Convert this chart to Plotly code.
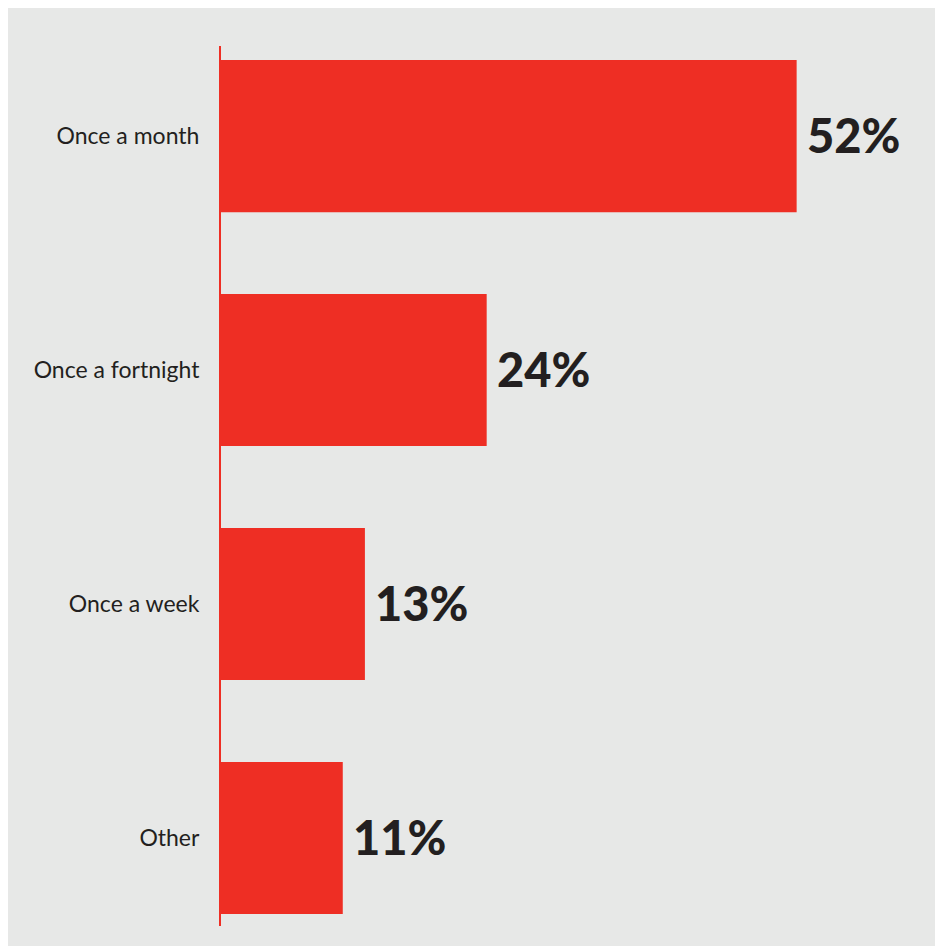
import plotly.graph_objects as go

# Survey answers and their shares (%)
categories = ["Once a month", "Once a fortnight", "Once a week", "Other"]
shares = [52, 24, 13, 11]
value_labels = ["52%", "24%", "13%", "11%"]

RED = "#EE2E24"
GREY = "#E7E8E7"
INK = "#231F20"

W, H = 935, 946
LEFT, RIGHT, TOP, BOTTOM = 221, 0, 46, 20

fig = go.Figure(
    go.Bar(
        x=shares,
        y=categories,
        orientation="h",
        marker=dict(color=RED, line=dict(width=0)),
        hoverinfo="skip",
    )
)

# Percentage labels just past the end of each bar
for cat, val, lab in zip(categories, shares, value_labels):
    fig.add_annotation(
        x=val, y=cat, xref="x", yref="y",
        text=lab,
        showarrow=False, xanchor="left", yanchor="middle",
        xshift=8, yshift=1,
        font=dict(family="Lato", size=47, color=INK, weight=900),
    )

plot_w = W - LEFT - RIGHT
plot_h = H - TOP - BOTTOM

# Grey panel behind everything, leaving a thin white edge top and left
fig.add_shape(
    type="rect", xref="paper", yref="paper", layer="below",
    x0=(8 - LEFT) / plot_w, x1=1 + (RIGHT + 5) / plot_w,
    y0=-(BOTTOM + 5) / plot_h, y1=1 + (TOP - 8) / plot_h,
    fillcolor=GREY, line=dict(width=0),
)

fig.update_layout(
    width=W, height=H,
    margin=dict(l=LEFT, r=RIGHT, t=TOP, b=BOTTOM, pad=0),
    paper_bgcolor="white",
    plot_bgcolor=GREY,
    bargap=0.35,
    showlegend=False,
    xaxis=dict(
        range=[0, plot_w / 11.07],
        visible=False,
        showgrid=False, zeroline=False, fixedrange=True,
    ),
    yaxis=dict(
        categoryorder="array", categoryarray=categories,
        range=[3.376, -0.385],
        showline=True, linecolor=RED, linewidth=2,
        showgrid=False, zeroline=False,
        ticks="", ticklabelstandoff=15,
        tickfont=dict(family="Lato", size=23, color=INK, weight=400),
        fixedrange=True,
    ),
)

fig.write_html("out.html")
